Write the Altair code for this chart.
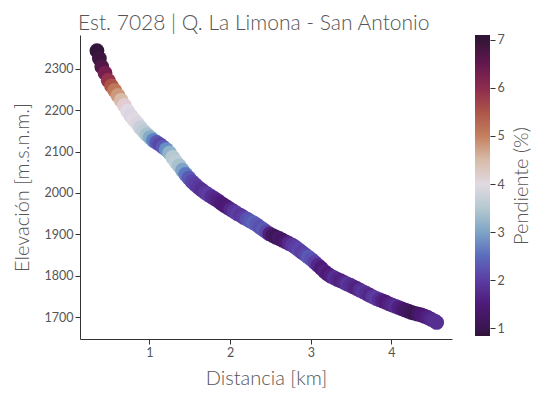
import altair as alt
import pandas as pd

# ---- data ----
distancia_km = [
    0.35, 0.38, 0.41, 0.45, 0.49, 0.53, 0.57, 0.61, 0.65, 0.69,
    0.73, 0.77, 0.81, 0.85, 0.89, 0.93, 0.97, 1.01, 1.05, 1.09,
    1.13, 1.17, 1.21, 1.25, 1.29, 1.33, 1.37, 1.41, 1.45, 1.49,
    1.53, 1.57, 1.61, 1.65, 1.69, 1.73, 1.77, 1.81, 1.85, 1.89,
    1.93, 1.97, 2.01, 2.05, 2.09, 2.13, 2.17, 2.21, 2.25, 2.29,
    2.33, 2.37, 2.41, 2.45, 2.49, 2.53, 2.57, 2.61, 2.65, 2.69,
    2.73, 2.77, 2.81, 2.85, 2.89, 2.93, 2.97, 3.01, 3.05, 3.09,
    3.13, 3.17, 3.21, 3.25, 3.29, 3.33, 3.37, 3.41, 3.45, 3.49,
    3.53, 3.57, 3.61, 3.65, 3.69, 3.73, 3.77, 3.81, 3.85, 3.89,
    3.93, 3.97, 4.01, 4.05, 4.09, 4.13, 4.17, 4.21, 4.25, 4.29,
    4.33, 4.37, 4.41, 4.45, 4.49, 4.53, 4.56,
]
elevacion_m = [
    2344, 2325, 2305, 2290, 2272, 2259, 2248, 2236, 2224, 2212,
    2198, 2187, 2177, 2168, 2158, 2149, 2141, 2134, 2127, 2122,
    2117, 2111, 2105, 2097, 2086, 2075, 2066, 2055, 2045, 2036,
    2027, 2020, 2013, 2007, 2001, 1996, 1991, 1986, 1981, 1975,
    1970, 1965, 1960, 1955, 1950, 1946, 1941, 1937, 1932, 1928,
    1923, 1917, 1912, 1906, 1901, 1897, 1893, 1890, 1886, 1882,
    1878, 1874, 1869, 1863, 1857, 1851, 1845, 1839, 1832, 1825,
    1818, 1810, 1804, 1799, 1795, 1791, 1788, 1784, 1780, 1777,
    1773, 1769, 1765, 1761, 1757, 1753, 1749, 1745, 1742, 1739,
    1736, 1732, 1729, 1726, 1723, 1720, 1717, 1714, 1711, 1709,
    1707, 1705, 1702, 1699, 1695, 1691, 1687,
]
pendiente_pct = [
    7.0, 6.9, 6.7, 6.3, 5.9, 5.5, 5.1, 4.8, 4.5, 4.2,
    4.0, 3.9, 4.0, 3.9, 3.7, 3.6, 3.4, 3.1, 2.7, 2.3,
    2.1, 2.3, 2.8, 3.2, 3.5, 3.6, 3.4, 3.0, 2.6, 2.3,
    2.1, 2.0, 1.9, 1.8, 1.9, 2.0, 1.8, 1.7, 1.6, 1.5,
    1.4, 1.5, 1.7, 1.9, 2.0, 1.9, 2.0, 2.2, 2.3, 2.4,
    2.3, 2.2, 2.3, 2.1, 1.6, 1.2, 1.1, 1.3, 1.2, 1.4,
    1.7, 1.9, 2.0, 2.1, 2.0, 2.1, 2.3, 2.2, 2.0, 1.7,
    1.5, 1.6, 1.5, 1.6, 1.8, 1.7, 1.6, 1.7, 1.9, 1.8,
    1.7, 1.6, 1.8, 1.9, 1.8, 1.7, 1.9, 2.0, 1.8, 1.6,
    1.5, 1.6, 1.7, 1.8, 1.6, 1.5, 1.3, 1.2, 1.1, 1.0,
    1.2, 1.4, 1.5, 1.6, 1.7, 1.8, 1.8,
]

x_ticks = [1, 2, 3, 4]
y_ticks = [1700, 1800, 1900, 2000, 2100, 2200, 2300]
cb_ticks = [1, 2, 3, 4, 5, 6, 7]
cb_min, cb_max = 0.84, 7.10

# twilight_shifted-like palette (value -> colour)
pal_values = [0.84, 1.0, 1.5, 2.0, 2.5, 3.0, 3.5, 4.0, 4.5, 5.0, 5.5, 6.0, 6.5, 7.0, 7.10]
pal_colors = ["#301437", "#3a1650", "#4e1a78", "#5b3da3", "#5c6bbd", "#7da4c6",
              "#b5c9d0", "#e1d9e1", "#d8bba9", "#c4805f", "#ad5449", "#8d2b4e",
              "#63184e", "#331539", "#301437"]

df = pd.DataFrame({"d": distancia_km, "e": elevacion_m, "p": pendiente_pct})

FONT = "Lato"
TXT = "#555555"
AX = "#333333"

main = alt.Chart(df).mark_circle(size=220, opacity=1).encode(
    x=alt.X("d:Q", scale=alt.Scale(domain=[0.14, 4.75], nice=False, zero=False),
            axis=alt.Axis(values=x_ticks, title="Distancia [km]", format="d",
                          titlePadding=10)),
    y=alt.Y("e:Q", scale=alt.Scale(domain=[1647, 2382], nice=False, zero=False),
            axis=alt.Axis(values=y_ticks, title="Elevación [m.s.n.m.]", format="d",
                          titlePadding=12)),
    color=alt.Color("p:Q", scale=alt.Scale(domain=pal_values, range=pal_colors),
                    legend=None),
).properties(width=372, height=304)

stops = [alt.GradientStop(color=c, offset=(v - cb_min) / (cb_max - cb_min))
         for v, c in zip(pal_values, pal_colors)]

cbar = alt.Chart(pd.DataFrame({"k": [0]})).mark_rect(
    fill=alt.LinearGradient(gradient="linear", stops=stops, x1=0, y1=1, x2=0, y2=0)
).encode(
    x=alt.value(0), x2=alt.value(15),
    y=alt.Y(datum=cb_min, type="quantitative",
            scale=alt.Scale(domain=[cb_min, cb_max], nice=False, zero=False),
            axis=alt.Axis(orient="right", values=cb_ticks, title="Pendiente (%)",
                          domain=False, titleAngle=270, titleBaseline="top",
                          titlePadding=7)),
    y2=alt.Y2(datum=cb_max),
).properties(width=15, height=301)

chart = alt.hconcat(main, cbar, spacing=23, bounds="flush").properties(
    title=alt.TitleParams("Est. 7028 | Q. La Limona - San Antonio", anchor="start",
                          dx=66, offset=0, fontSize=21, font=FONT, color=TXT,
                          fontWeight=300),
    padding={"left": 4, "top": 4, "right": 5, "bottom": 5},
).configure_view(stroke=None).configure_axis(
    grid=False, domainColor=AX, tickColor=AX, tickSize=5, labelPadding=2,
    labelFont=FONT, labelFontSize=12.5, labelColor=TXT,
    titleFont=FONT, titleFontSize=20, titleColor=TXT, titleFontWeight=300,
)

chart.save("out.html", embed_options={"renderer": "svg", "actions": False})
